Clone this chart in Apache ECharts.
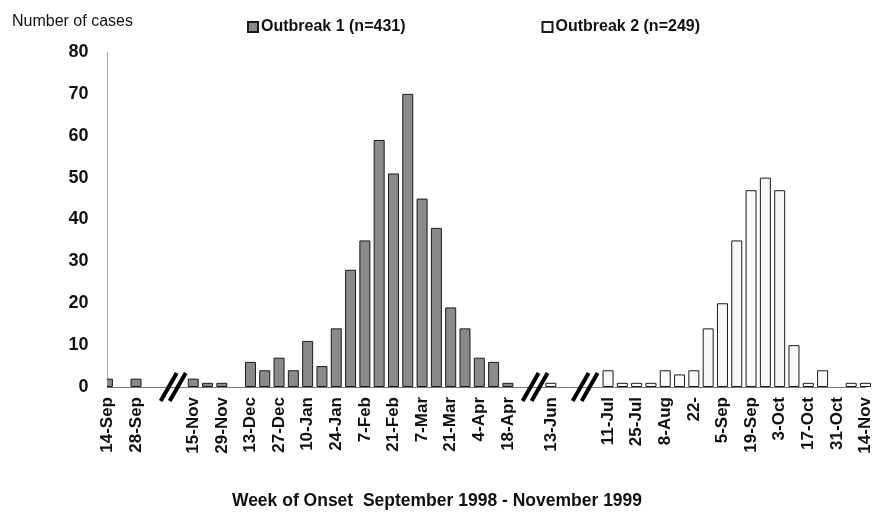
<!DOCTYPE html>
<html>
<head>
<meta charset="utf-8">
<script src="https://cdn.jsdelivr.net/npm/echarts@6/dist/echarts.min.js"></script>
<style>
html,body{margin:0;padding:0;background:#fff;}
#chart{width:874px;height:528px;}
</style>
</head>
<body>
<div id="chart"></div>
<script>
const categories = ['14-Sep','21-Sep','28-Sep','5-Oct','1-Nov','8-Nov','15-Nov','22-Nov','29-Nov','6-Dec',
  '13-Dec','20-Dec','27-Dec','3-Jan','10-Jan','17-Jan','24-Jan','31-Jan','7-Feb','14-Feb',
  '21-Feb','28-Feb','7-Mar','14-Mar','21-Mar','28-Mar','4-Apr','11-Apr','18-Apr','25-Apr',
  '6-Jun','13-Jun','20-Jun','27-Jun','4-Jul','11-Jul','18-Jul','25-Jul','1-Aug','8-Aug',
  '15-Aug','22-Aug','29-Aug','5-Sep','12-Sep','19-Sep','26-Sep','3-Oct','10-Oct','17-Oct',
  '24-Oct','31-Oct','7-Nov','14-Nov'];
const tickLabels = ['14-Sep','','28-Sep','','','','15-Nov','','29-Nov','',
  '13-Dec','','27-Dec','','10-Jan','','24-Jan','','7-Feb','',
  '21-Feb','','7-Mar','','21-Mar','','4-Apr','','18-Apr','',
  '','13-Jun','','','','11-Jul','','25-Jul','','8-Aug',
  '','22-','','5-Sep','','19-Sep','','3-Oct','','17-Oct',
  '','31-Oct','','14-Nov'];
const outbreak1 = [2,null,2,null,null,null,2,1,1,null,
  6,4,7,4,11,5,14,28,35,59,
  51,70,45,38,19,14,7,6,1,null,
  null,null,null,null,null,null,null,null,null,null,
  null,null,null,null,null,null,null,null,null,null,
  null,null,null,null];
const outbreak2 = [null,null,null,null,null,null,null,null,null,null,
  null,null,null,null,null,null,null,null,null,null,
  null,null,null,null,null,null,null,null,null,null,
  null,1,null,null,null,4,1,1,1,4,
  3,4,14,20,35,47,50,47,10,1,
  4,null,1,1];
const yTicks = [0,10,20,30,40,50,60,70,80];
const breakPositions = [4.6, 29.9, 33.4];

const chart = echarts.init(document.getElementById('chart'), null, {renderer:'canvas'});
const FONT = '"Liberation Sans", Arial, sans-serif';
chart.setOption({
  animation: false,
  backgroundColor: '#fff',
  title: [
    {text: 'Number of cases', left: 7, top: 9,
     textStyle: {fontFamily: FONT, fontSize: 16, fontWeight: 'normal', color: '#111'}},
    {text: 'Week of Onset  September 1998 - November 1999', left: 'center', top: 487,
     textStyle: {fontFamily: FONT, fontSize: 17.5, fontWeight: 'bold', color: '#111'}}
  ],
  legend: {
    top: 14, left: 242, itemWidth: 10, itemHeight: 10, itemGap: 136,
    icon: 'rect',
    textStyle: {fontFamily: FONT, fontSize: 16, fontWeight: 'bold', color: '#111', padding: [0,0,0,-2]},
    data: ['Outbreak 1 (n=431)', 'Outbreak 2 (n=249)']
  },
  grid: {left: 107.4, right: 5.5, top: 52, bottom: 141, containLabel: false},
  xAxis: {
    type: 'category', data: categories, boundaryGap: false,
    axisLine: {show: true, lineStyle: {color: '#777', width: 1}},
    axisTick: {show: false},
    axisLabel: {interval: 0, rotate: 90, margin: 10, color: '#111',
      fontFamily: FONT, fontSize: 17, fontWeight: 'bold',
      formatter: (v, i) => tickLabels[i]},
    splitLine: {show: false}
  },
  yAxis: {
    type: 'value', min: yTicks[0], max: yTicks[yTicks.length-1], interval: 10,
    axisLine: {show: true, lineStyle: {color: '#aaa', width: 1}},
    axisTick: {show: false},
    splitLine: {show: false},
    axisLabel: {margin: 19, color: '#111', fontFamily: FONT, fontSize: 18, fontWeight: 'bold'}
  },
  series: [
    {name: 'Outbreak 1 (n=431)', type: 'bar', data: outbreak1, barWidth: 11, barGap: '-100%', clip: true,
     itemStyle: {color: '#8a8a8a', borderColor: '#1a1a1a', borderWidth: 1}},
    {name: 'Outbreak 2 (n=249)', type: 'bar', data: outbreak2, barWidth: 11, barGap: '-100%', clip: true,
     itemStyle: {color: '#f8f8f8', borderColor: '#1a1a1a', borderWidth: 1}}
  ]
});

// break marks, positioned through the category axis scale
const y0 = chart.convertToPixel({yAxisIndex: 0}, 0);
const yTop = chart.convertToPixel({yAxisIndex: 0}, yTicks[yTicks.length-1]);
const x0 = chart.convertToPixel({xAxisIndex: 0}, 0);
const graphics = [];
breakPositions.forEach(p => {
  const a = Math.floor(p), b = a + 1, f = p - a;
  const xa = chart.convertToPixel({xAxisIndex: 0}, a);
  const xb = chart.convertToPixel({xAxisIndex: 0}, b);
  const xc = xa + (xb - xa) * f;
  [-4.5, 4.5].forEach(dx => {
    graphics.push({type: 'line', z: 100,
      shape: {x1: xc + dx - 8, y1: y0 + 14, x2: xc + dx + 8, y2: y0 - 14},
      style: {stroke: '#000', lineWidth: 4}});
  });
});
// hide the half of the first bar that lies left of the value axis
graphics.push({type: 'rect', z: 50,
  shape: {x: x0 - 9, y: yTop, width: 8.5, height: y0 - yTop + 1},
  style: {fill: '#fff'}});
chart.setOption({graphic: graphics});
</script>
</body>
</html>
